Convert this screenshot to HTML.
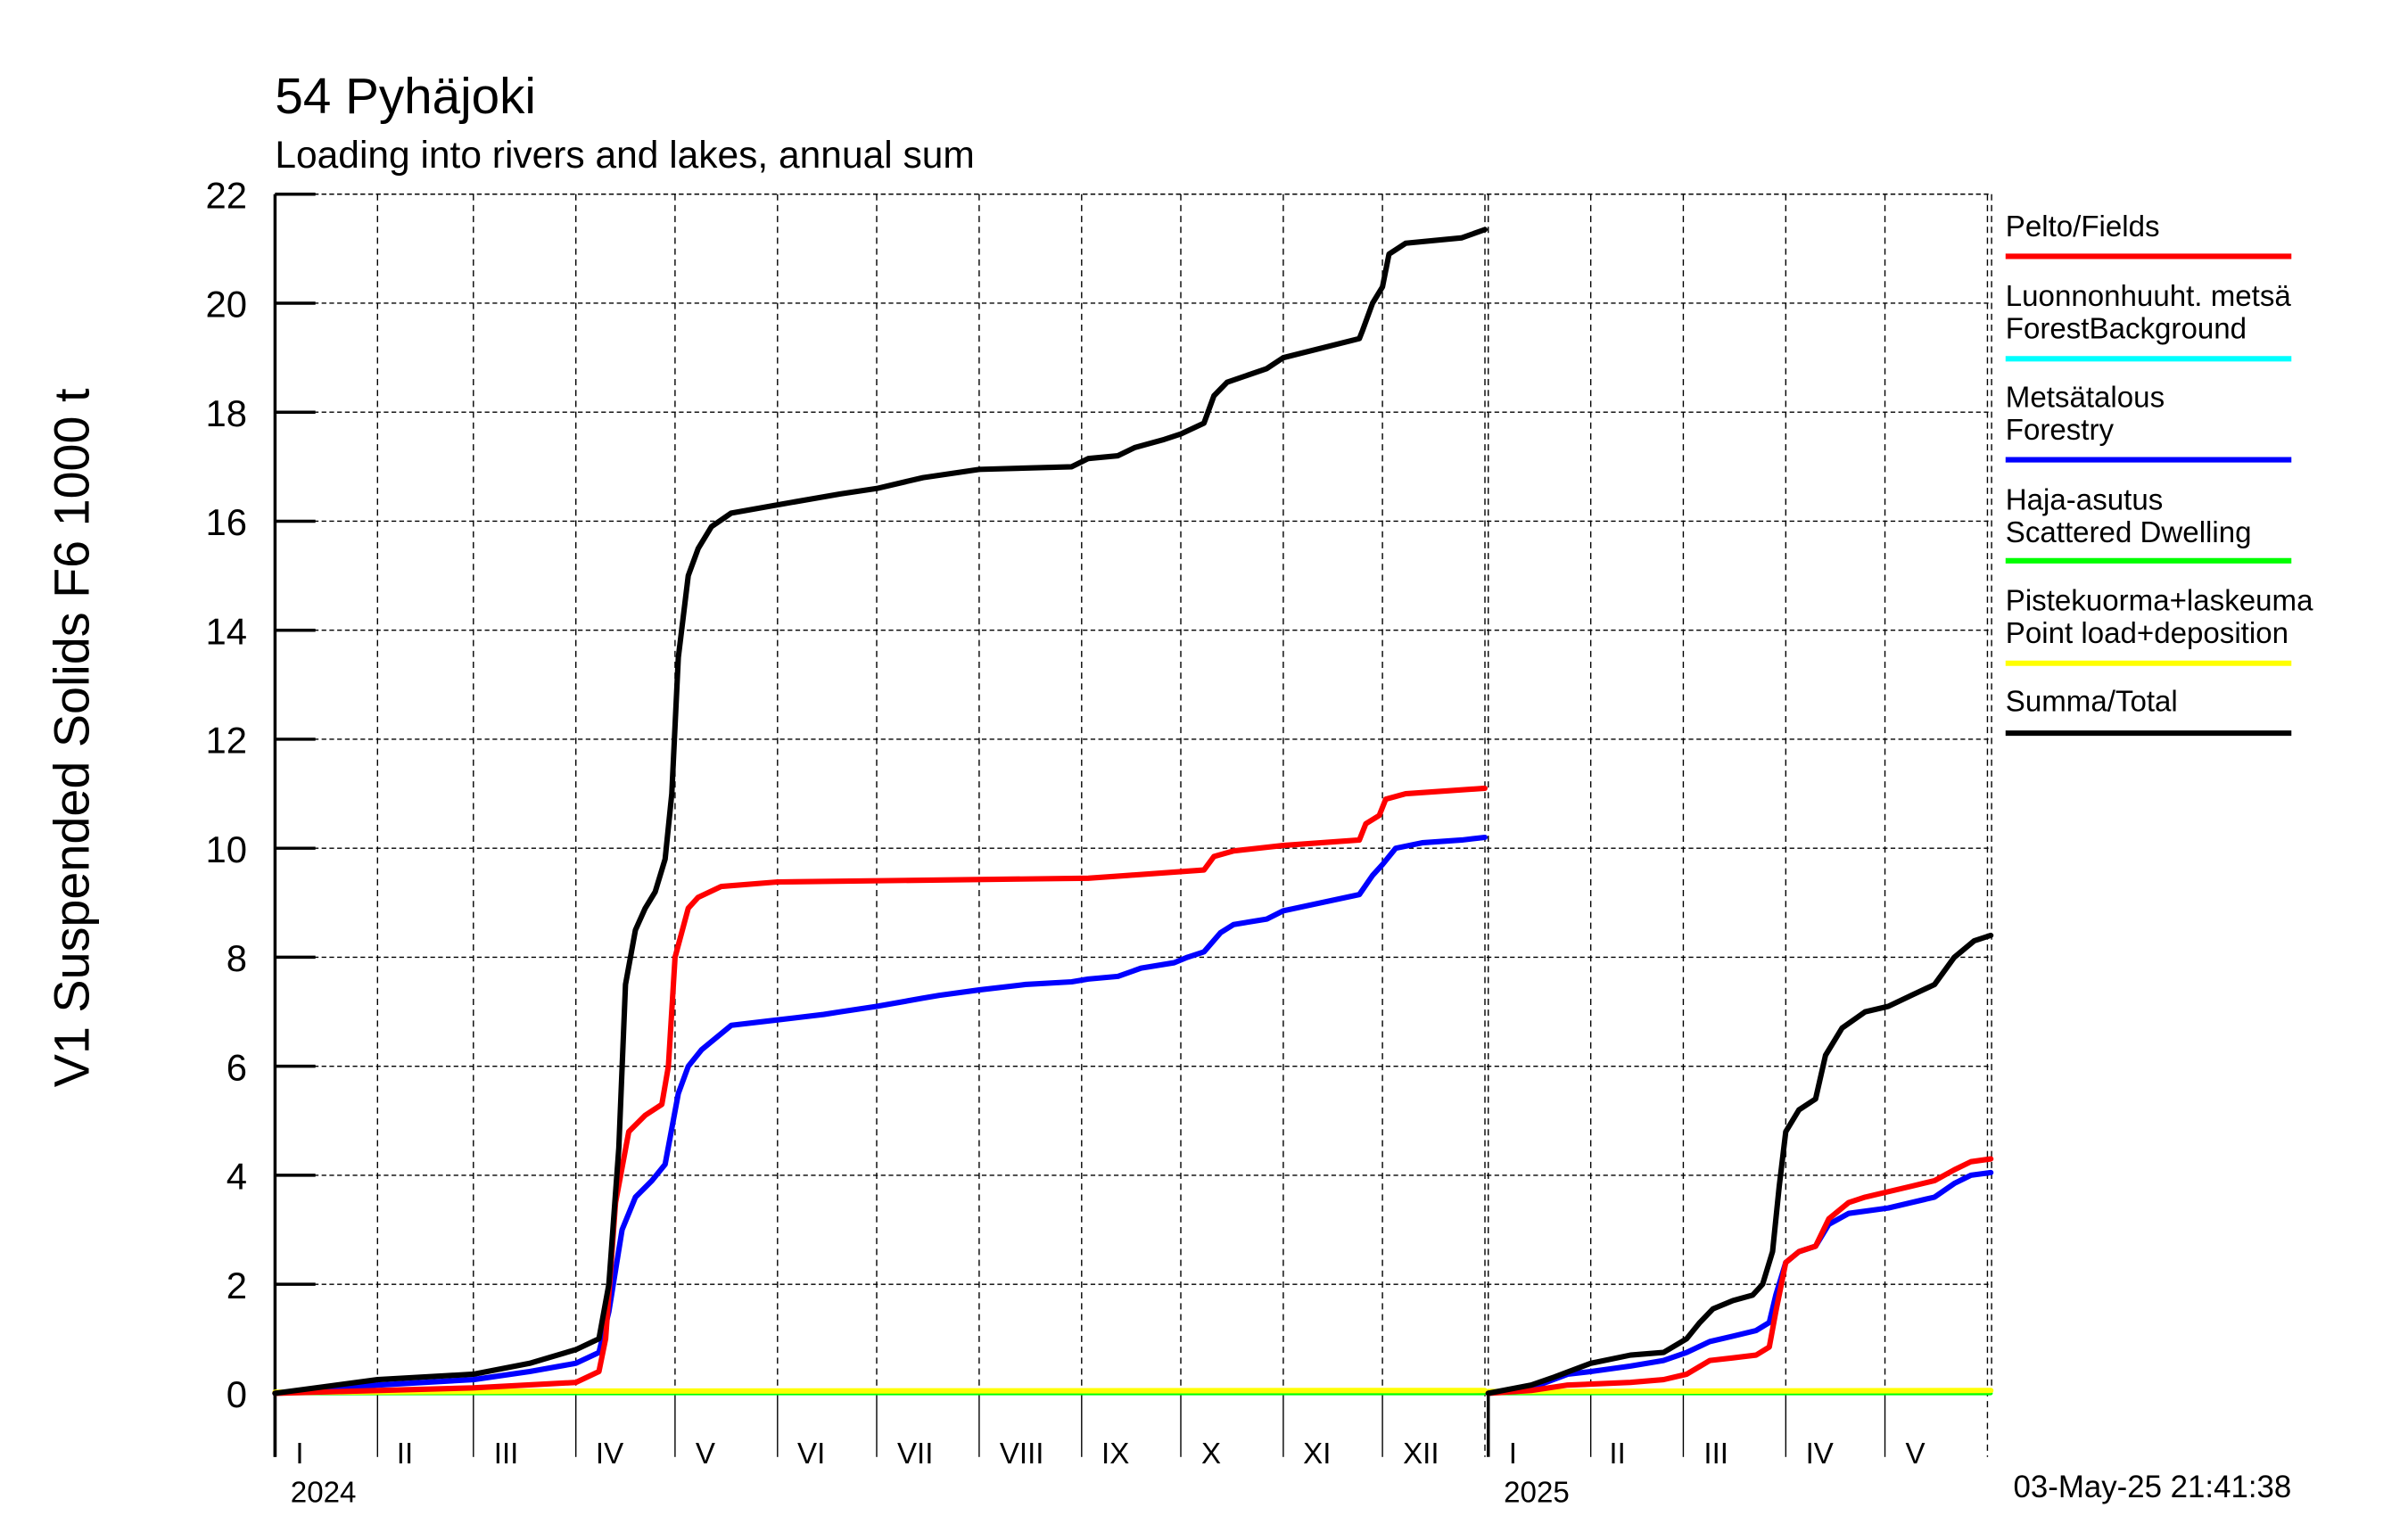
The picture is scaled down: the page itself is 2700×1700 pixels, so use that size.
<!DOCTYPE html>
<html><head><meta charset="utf-8"><style>
html,body{margin:0;padding:0;background:#fff;}
svg{display:block;font-family:"Liberation Sans",sans-serif;}
</style></head><body>
<svg id="chart" width="2700" height="1700" viewBox="0 0 1550 976" xmlns="http://www.w3.org/2000/svg">
<rect x="0" y="0" width="1550" height="976" fill="#fff"/>
<text x="177" y="73" font-size="32.5">54 Pyhäjoki</text>
<text x="177" y="108" font-size="24.4">Loading into rivers and lakes, annual sum</text>
<text transform="translate(57,475) rotate(-90)" text-anchor="middle" font-size="32">V1 Suspended Solids F6 1000 t</text>
<g id="grid"></g>
<g id="axes"></g>
<g id="series"></g>
<g id="legend"></g>
<text x="1475" y="964" text-anchor="end" font-size="20">03-May-25 21:41:38</text>
</svg>
<script>
const yTicks = [0,2,4,6,8,10,12,14,16,18,20,22];
const months2024 = ["I","II","III","IV","V","VI","VII","VIII","IX","X","XI","XII"];
const monthDays2024 = [31,29,31,30,31,30,31,31,30,31,30,31];
const months2025 = ["I","II","III","IV","V"];
const monthDays2025 = [31,28,31,30,31];
const years = ["2024","2025"];

const fieldsDays2024 = [0,60,91,98,100,103,107,112,117,119,121,125,128,135,152,246,258,281,284,290,305,328,330,334,336,342,366];
const fieldsVals2024 = [0,0.1,0.2,0.4,1,3.5,4.8,5.1,5.3,6,8,8.9,9.1,9.3,9.38,9.45,9.5,9.6,9.85,9.95,10.05,10.15,10.45,10.6,10.9,11.0,11.1];
const forestryDays2024 = [0,31,60,77,91,98,101,105,109,114,118,122,125,129,138,152,166,171,182,196,201,213,227,241,246,255,262,272,276,281,286,290,300,305,328,332,335,339,347,359,366];
const forestryVals2024 = [0,0.15,0.25,0.4,0.55,0.75,1.5,3,3.6,3.9,4.2,5.5,6.0,6.3,6.75,6.85,6.95,7.0,7.1,7.25,7.3,7.4,7.5,7.55,7.6,7.65,7.8,7.9,8.0,8.1,8.45,8.6,8.7,8.85,9.15,9.5,9.7,10.0,10.1,10.15,10.2];
const totalDays2024 = [0,31,60,77,91,98,101,104,106,109,112,115,118,120,122,125,128,132,138,152,171,182,196,213,241,246,255,260,269,274,281,284,288,300,305,328,329,332,335,337,342,359,366];
const totalVals2024 = [0,0.25,0.35,0.55,0.8,1.0,2.0,4.5,7.5,8.5,8.9,9.2,9.8,11,13.5,15,15.5,15.9,16.15,16.3,16.5,16.6,16.8,16.95,17.0,17.15,17.2,17.35,17.5,17.6,17.8,18.3,18.55,18.8,19.0,19.35,19.5,20.0,20.3,20.9,21.1,21.2,21.35];
const pointDays2024 = [0,91,366];
const pointVals2024 = [0.02,0.04,0.05];
const dwellDays2024 = [0,366];
const dwellVals2024 = [0,0];

const fieldsDays2025 = [0,13,24,43,53,60,67,74,81,85,87,90,94,99,103,109,114,121,128,135,141,146,152];
const fieldsVals2025 = [0,0.05,0.15,0.2,0.25,0.35,0.6,0.65,0.7,0.85,1.5,2.4,2.6,2.7,3.2,3.5,3.6,3.7,3.8,3.9,4.1,4.25,4.3];
const forestryDays2025 = [0,13,24,31,43,53,60,67,74,81,85,87,90,94,99,103,109,121,128,135,141,146,152];
const forestryVals2025 = [0,0.1,0.35,0.4,0.5,0.6,0.75,0.95,1.05,1.15,1.3,1.8,2.4,2.6,2.7,3.1,3.3,3.4,3.5,3.6,3.85,4.0,4.05];
const totalDays2025 = [0,13,20,31,43,53,60,64,68,74,80,83,86,88,90,94,99,102,107,114,121,128,135,141,147,152];
const totalVals2025 = [0,0.15,0.3,0.55,0.7,0.75,1.0,1.3,1.55,1.7,1.8,2.0,2.6,3.8,4.8,5.2,5.4,6.2,6.7,7.0,7.1,7.3,7.5,8.0,8.3,8.4];
const pointDays2025 = [0,152];
const pointVals2025 = [0.03,0.05];
const dwellDays2025 = [0,152];
const dwellVals2025 = [0,0];

const legendLabels = [["Pelto/Fields"],["Luonnonhuuht. metsä","ForestBackground"],["Metsätalous","Forestry"],["Haja-asutus","Scattered Dwelling"],["Pistekuorma+laskeuma","Point load+deposition"],["Summa/Total"]];
const legendColors = ["#ff0000","#00ffff","#0000ff","#00ff00","#ffff00","#000000"];

const NS = "http://www.w3.org/2000/svg";
const L = 177, R = 1282, T = 125, B = 897, AXB = 938;
const PX_DAY = 2.128;
const starts = [177, 958];
function xs(yearIdx, day){ return starts[yearIdx] + day*PX_DAY; }
function ys(v){ return B - (v/22)*(B-T); }
function mk(tag, attrs, parent){ const e=document.createElementNS(NS,tag); for(const k in attrs) e.setAttribute(k,attrs[k]); parent.appendChild(e); return e; }

const grid=document.getElementById('grid'), axes=document.getElementById('axes'), ser=document.getElementById('series'), leg=document.getElementById('legend');
yTicks.forEach(v=>{
  const y=ys(v);
  if(v>0){ const g=mk('line',{x1:L,x2:R,y1:y,y2:y,stroke:'#000','stroke-width':0.8,'stroke-dasharray':'3,2'},grid);
    
     }
  const t=mk('line',{x1:L,x2:L+26,y1:y,y2:y,stroke:'#000','stroke-width':2},axes);
  
  
  const lb=mk('text',{x:L-18,y:y+9,'text-anchor':'end','font-size':24},axes);
  lb.textContent=v;
  
  
});
function months(yi, names, days){
  let d=0;
  names.forEach((n,i)=>{
    const x=xs(yi,d);
    const gl=mk('line',{x1:x,x2:x,y1:T,y2:B,stroke:'#000','stroke-width':0.8,'stroke-dasharray':'4,3'},grid);
    
    
    const tl=mk('line',{x1:x,x2:x,y1:B,y2:AXB,stroke:'#000','stroke-width':(i==0?2:0.8)},axes);
    
    
    const tx=mk('text',{x:x+days[i]*PX_DAY*0.2,y:942,'font-size':19},axes);
    tx.textContent=n;
    
    
    d+=days[i];
  });
  const xe=xs(yi,d);
  const ge=mk('line',{x1:xe,x2:xe,y1:T,y2:AXB,stroke:'#000','stroke-width':0.8,'stroke-dasharray':'4,3'},grid);
  
  
}
months(0,months2024,monthDays2024);
months(1,months2025,monthDays2025);
years.forEach((y,i)=>{
  const t=mk('text',{x:starts[i]+10,y:967,'font-size':19},axes);
  t.textContent=y;
  
  
});
const topBorder=mk('line',{x1:L,x2:R,y1:T,y2:T,stroke:'#000','stroke-width':0.8,'stroke-dasharray':'3,2'},grid);


const rightBorder=mk('line',{x1:R,x2:R,y1:T,y2:B,stroke:'#000','stroke-width':0.8,'stroke-dasharray':'4,3'},grid);


const yAxisLine=mk('line',{x1:L,x2:L,y1:T,y2:AXB,stroke:'#000','stroke-width':2},axes);



function line(yi, days, vals, color, w, name){
  const pts=days.map((d,i)=>xs(yi,d).toFixed(1)+','+ys(vals[i]).toFixed(1)).join(' ');
  const p=mk('polyline',{points:pts,fill:'none',stroke:color,'stroke-width':w,'stroke-linejoin':'round','stroke-linecap':'round'},ser);
  
  
}
line(0,dwellDays2024,dwellVals2024,'#00ff00',2.5,'dwelling-line-2024');
line(1,dwellDays2025,dwellVals2025,'#00ff00',2.5,'dwelling-line-2025');
line(0,pointDays2024,pointVals2024,'#ffff00',3.5,'point-load-line-2024');
line(1,pointDays2025,pointVals2025,'#ffff00',3.5,'point-load-line-2025');
line(0,forestryDays2024,forestryVals2024,'#0000ff',3.5,'forestry-line-2024');
line(1,forestryDays2025,forestryVals2025,'#0000ff',3.5,'forestry-line-2025');
line(0,fieldsDays2024,fieldsVals2024,'#ff0000',3.5,'fields-line-2024');
line(1,fieldsDays2025,fieldsVals2025,'#ff0000',3.5,'fields-line-2025');
line(0,totalDays2024,totalVals2024,'#000000',3.5,'total-line-2024');
line(1,totalDays2025,totalVals2025,'#000000',3.5,'total-line-2025');

const legY=[152,197,262,328,393,458];
const legLine=[165,231,296,361,427,472];
legendLabels.forEach((lbls,i)=>{
  const g=mk('g',{},leg);
  
  
  lbls.forEach((s,j)=>{
    const t=mk('text',{x:1291,y:legY[i]+j*21,'font-size':19},g);
    t.textContent=s;
    
    
  });
  const l=mk('line',{x1:1291,x2:1475,y1:legLine[i],y2:legLine[i],stroke:legendColors[i],'stroke-width':3.5},g);
  
  
});
</script>
</body></html>
